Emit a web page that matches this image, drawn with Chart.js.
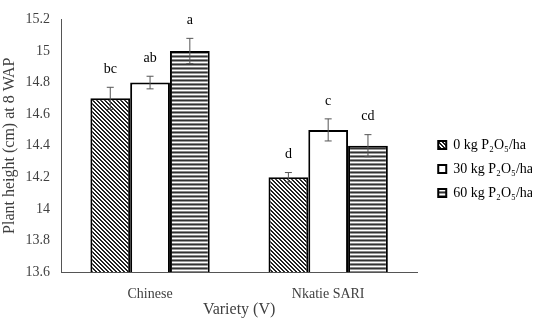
<!DOCTYPE html>
<html>
<head>
<meta charset="utf-8">
<script src="https://cdn.jsdelivr.net/npm/chart.js@4"></script>
<style>
  body { margin: 0; background: #fff; }
  #wrap { width: 536px; height: 323px; }
</style>
</head>
<body>
<div id="wrap"><canvas id="plantChart" width="536" height="323"></canvas></div>
<script>
const varieties = ['Chinese', 'Nkatie SARI'];
const treatments = ['0 kg P\u2082O\u2085/ha', '30 kg P\u2082O\u2085/ha', '60 kg P\u2082O\u2085/ha'];

const height0 = [14.7, 14.2];
const height30 = [14.8, 14.5];
const height60 = [15.0, 14.4];

const err0 = [0.07, 0.03];
const err30 = [0.04, 0.07];
const err60 = [0.08, 0.07];

const letters0 = ['bc', 'd'];
const letters30 = ['ab', 'c'];
const letters60 = ['a', 'cd'];

const yTicks = [13.6, 13.8, 14, 14.2, 14.4, 14.6, 14.8, 15, 15.2];

const serif = '"Liberation Serif", "Times New Roman", serif';

// fill patterns like the excel print style
function diagPattern() {
  const c = document.createElement('canvas');
  c.width = 4; c.height = 4;
  const g = c.getContext('2d');
  g.fillStyle = '#fff';
  g.fillRect(0, 0, 4, 4);
  g.fillStyle = '#222';
  for (let i = 0; i < 4; i++) {
    g.fillRect(i, i, 1, 1);
    g.fillRect((i + 1) % 4, i, 1, 1);
  }
  return g.createPattern(c, 'repeat');
}

function stripePattern() {
  const c = document.createElement('canvas');
  c.width = 4; c.height = 4;
  const g = c.getContext('2d');
  const rows = ['#333', '#999', '#fff', '#888'];
  rows.forEach((col, i) => {
    g.fillStyle = col;
    g.fillRect(0, i, 4, 1);
  });
  return g.createPattern(c, 'repeat');
}

const ctx = document.getElementById('plantChart').getContext('2d');

const errorBars = {
  id: 'errorBars',
  afterDatasetsDraw(chart) {
    const g = chart.ctx;
    const y = chart.scales.y;
    g.save();
    chart.data.datasets.forEach((ds, di) => {
      const meta = chart.getDatasetMeta(di);
      meta.data.forEach((bar, i) => {
        const v = ds.data[i];
        const e = ds.errors[i];
        const top = y.getPixelForValue(v + e);
        const bot = y.getPixelForValue(v - e);
        g.strokeStyle = '#555';
        g.lineWidth = 1;
        g.beginPath();
        g.moveTo(bar.x, top); g.lineTo(bar.x, bot);
        g.moveTo(bar.x - 3.5, top); g.lineTo(bar.x + 3.5, top);
        g.moveTo(bar.x - 3.5, bot); g.lineTo(bar.x + 3.5, bot);
        g.stroke();
        g.fillStyle = '#000';
        g.font = '14px ' + serif;
        g.textAlign = 'center';
        g.textBaseline = 'middle';
        g.fillText(ds.letters[i], bar.x, top - 18);
      });
    });
    g.restore();
  }
};

// put the plot and the legend where the original has them
const legendShift = {
  id: 'legendShift',
  afterLayout(chart) {
    const lg = chart.legend;
    lg.left = chart.chartArea.right + 11;
    lg.top += 6;
  }
};

new Chart(ctx, {
  type: 'bar',
  data: {
    labels: varieties,
    datasets: [
      { label: treatments[0], data: height0, errors: err0, letters: letters0, backgroundColor: diagPattern() },
      { label: treatments[1], data: height30, errors: err30, letters: letters30, backgroundColor: '#fff' },
      { label: treatments[2], data: height60, errors: err60, letters: letters60, backgroundColor: stripePattern() }
    ].map(d => Object.assign(d, {
      borderColor: '#000',
      borderWidth: 2,
      borderSkipped: false,
      categoryPercentage: 0.67,
      barPercentage: 1
    }))
  },
  options: {
    responsive: false,
    animation: false,
    layout: { padding: { top: 9, right: 4 } },
    plugins: {
      tooltip: { enabled: false },
      legend: {
        position: 'right',
        align: 'center',
        labels: {
          boxWidth: 8,
          boxHeight: 8,
          padding: 10,
          color: '#000',
          font: { family: serif, size: 14 }
        }
      }
    },
    scales: {
      y: {
        min: 13.6,
        max: 15.2,
        afterBuildTicks: s => { s.ticks = yTicks.map(v => ({ value: v })); },
        afterFit: s => { s.width = 61; },
        grid: { display: false, drawTicks: false },
        border: { color: '#555', width: 1 },
        ticks: {
          padding: 11,
          color: '#404040',
          font: { family: serif, size: 14 },
          callback: v => String(Math.round(v * 10) / 10)
        },
        title: {
          display: true,
          text: 'Plant height (cm) at 8 WAP',
          color: '#404040',
          font: { family: serif, size: 16 },
          padding: 0
        }
      },
      x: {
        afterFit: s => { s.height = 51; },
        grid: { display: false, drawTicks: false },
        border: { color: '#555', width: 1 },
        ticks: {
          padding: 14,
          color: '#404040',
          font: { family: serif, size: 14 }
        },
        title: {
          display: true,
          text: 'Variety (V)',
          color: '#404040',
          font: { family: serif, size: 16 },
          padding: { top: 5 }
        }
      }
    }
  },
  plugins: [errorBars, legendShift]
});
</script>
</body>
</html>
